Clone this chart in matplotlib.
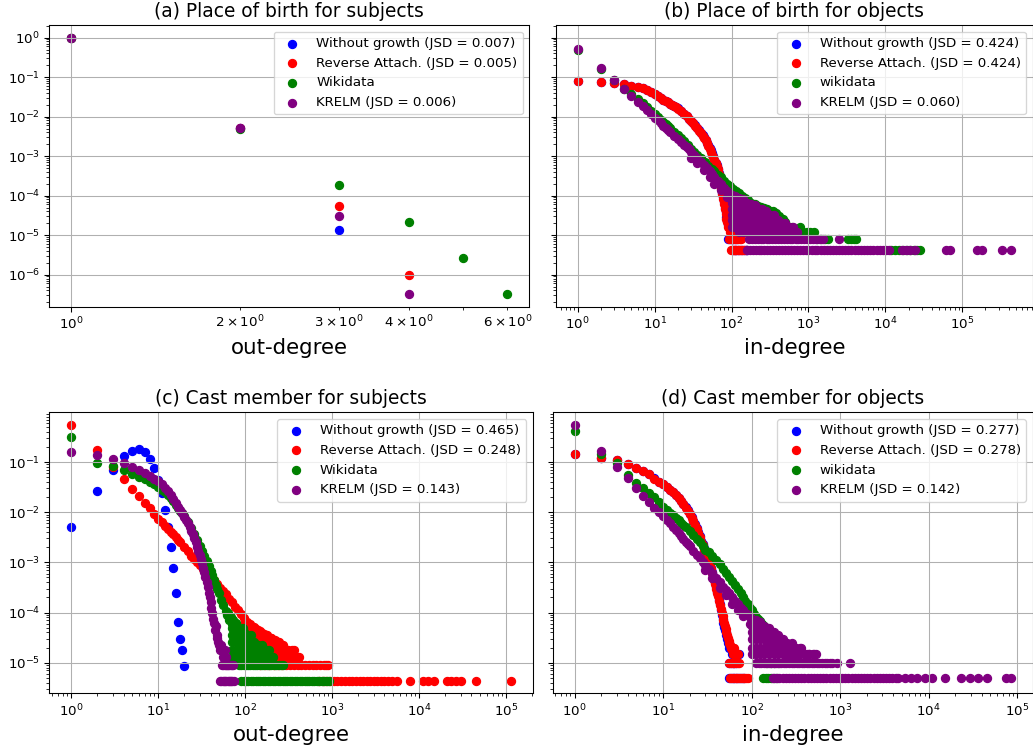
import numpy as np
import matplotlib.pyplot as plt

plt.rcParams.update({'font.size': 10})

# ---------------- (a) place of birth, subjects: out-degree ----------------
a_nogrowth_k = [1, 2, 3]
a_nogrowth_p = [0.99, 5.2e-3, 1.35e-5]
a_reverse_k = [1, 2, 3, 4]
a_reverse_p = [0.99, 5.1e-3, 5.6e-5, 1.0e-6]
a_wiki_k = [1, 2, 3, 4, 5, 6]
a_wiki_p = [0.99, 4.8e-3, 1.9e-4, 2.1e-5, 2.6e-6, 3.3e-7]
a_krelm_k = [1, 2, 3, 4]
a_krelm_p = [0.99, 5.3e-3, 3.0e-5, 3.3e-7]

# ---------------- (b) place of birth, objects: in-degree ----------------
b_unit = 4.1e-6  # frequency of a degree seen once
b_reverse_k = [1, 2, 3, 4, 5, 6, 7, 8, 9, 10, 11, 12, 13, 14, 15, 16, 17, 18, 19, 20,
               22, 24, 26, 28, 30, 32, 34, 36, 38, 40, 42, 44, 46, 48, 50, 52, 54, 56, 58, 60,
               62, 64, 66, 68, 70, 72, 74, 76, 78, 80, 82, 84, 86, 88, 90,
               93, 96, 100, 104, 108, 113, 118, 124, 95, 100, 106, 112, 130, 140]
b_reverse_p = [.080, .075, .069, .066, .061, .057, .052, .047, .042, .037, .033, .030, .027, .025, .023, .021, .0195, .0183, .0172, .016,
               .0138, .0118, .0101, .0088, .0078, .0068, .0059, .0051, .0044, .0038, .0033, .0029, .0025, .0021, .0018, .0015, .0013, .0011, .00093, .00078,
               .00066, .00055, .00046, .00036, .00028, .00021, .00015, .00011, 8e-5, 6e-5, 4.5e-5, 3.4e-5, 2.6e-5, 2.1e-5, 1.6e-5,
               1.64e-5, 1.23e-5, 1.64e-5, 1.23e-5, 1.23e-5, 1.64e-5, 1.23e-5, 1.23e-5, 2.05e-5, 2.05e-5, 1.64e-5, 1.64e-5, 1.23e-5, 1.23e-5]
b_reverse_twice = [92, 97, 101, 105, 110, 115, 121, 127, 133]
b_reverse_once = [99, 103, 107, 111, 116, 121, 126, 132, 138, 145, 152]

b_nogrowth_k = [1, 2, 3, 4, 5, 6, 7, 8, 9, 10, 11, 12, 13, 14, 15, 16, 17, 18, 19, 20,
                22, 24, 26, 28, 30, 32, 34, 36, 38, 40, 42, 44, 46, 48, 50, 52, 54, 56, 58, 60,
                62, 64, 66, 68, 70, 72, 74, 76, 78, 80, 82, 84, 86, 88, 90,
                93, 96, 100, 104, 109, 114, 120, 127]
b_nogrowth_p = [.081, .075, .070, .066, .061, .057, .052, .047, .042, .037, .033, .030, .027, .025, .023, .021, .0196, .0184, .0173, .0161,
                .0139, .0119, .0102, .0089, .0079, .0069, .0060, .0052, .0045, .0039, .0034, .0030, .0026, .0022, .0019, .0016, .0014, .0012, .00098, .00082,
                .00069, .00058, .00048, .00038, .00030, .00023, .00017, .00012, 9e-5, 7e-5, 5e-5, 3.8e-5, 2.9e-5, 2.3e-5, 1.8e-5,
                1.64e-5, 1.64e-5, 1.23e-5, 1.64e-5, 1.23e-5, 1.23e-5, 1.23e-5, 1.23e-5]
b_nogrowth_twice = [89, 95, 100, 106, 112, 118]
b_nogrowth_once = [104, 110, 116, 122, 129, 136, 144, 152, 160]

b_wiki_k = [1, 2, 3, 4, 5, 6, 7, 8, 9, 10, 11, 12, 13, 14, 15, 16,
            18, 20, 22, 24, 27, 30, 33, 36, 40, 45, 50, 55, 60, 66, 72, 80, 88, 96,
            105, 115, 125, 138, 150, 165, 180, 200, 220, 240,
            265, 290, 320, 350, 380, 420, 460, 500, 560, 620,
            700, 780, 860, 950, 1050, 1170]
b_wiki_p = [.50, .165, .083, .051, .037, .028, .0217, .0172, .0140, .0115, .0097, .0084, .0073, .0064, .0057, .0051,
            .0041, .0034, .0028, .0024, .0019, .00155, .00128, .00107, .00088, .00070, .00057, .00048, .00041, .00034, .00029, .00024, .00020, .000175,
            .000150, .000130, .000115, .000098, .000088, .000076, .000066, .000060, .000056, .000053,
            .000050, .000046, .000042, .000040, .000037, .000030, .000025, .000021, .0000164, .0000164,
            .0000123, .0000164, .0000123, .0000123, .0000123, .0000123]
b_wiki_twice = [1300, 1450, 1650, 1800, 3300, 3600, 3900, 4200]
b_wiki_once = [12000, 13500, 15000, 17000, 19000, 21000, 23500, 26000, 28000]

b_krelm_k = [1, 2, 3, 4, 5, 6, 7, 8, 9, 10, 11, 12, 13, 14, 15, 16,
             18, 20, 22, 24, 26, 28,
             30, 30, 33, 36, 36, 40, 44, 44, 48, 52, 52, 56, 60, 60,
             66, 72, 72, 80, 88, 88, 96, 105, 105, 115, 125, 125,
             140, 155, 155, 170, 190, 190, 210, 230, 230, 255, 280, 280,
             310, 340, 340, 380, 420, 420, 470, 530, 600]
b_krelm_p = [.51, .167, .083, .049, .033, .024, .0186, .0145, .0115, .0093, .0080, .0068, .0059, .0052, .0046, .0041,
             .0033, .0027, .0023, .0019, .0017, .0015,
             .00125, .00090, .00105, .00088, .00068, .00072, .00060, .00045, .00050, .00042, .00030, .00035, .00029, .00020,
             .00024, .00020, .00014, .00016, .00013, .00009, .00011, .000092, .000062, .000078, .000066, .000045,
             .000058, .000050, .000033, .000045, .000041, .0000246, .000037, .000033, .0000205, .000029, .0000246, .0000164,
             .0000205, .0000205, .0000123, .0000164, .0000164, .0000123, .0000123, .0000123, .0000123]
# (degree, times seen) inside the dense cloud right of the peak
b_krelm_cloud = [(100, 4), (100, 6), (100, 8), (100, 11), (100, 16), (100, 20), (100, 26),
                 (112, 4), (112, 6), (112, 8), (112, 11), (112, 16), (112, 20), (112, 24),
                 (125, 3), (125, 4), (125, 6), (125, 8), (125, 11), (125, 16), (125, 21),
                 (140, 3), (140, 4), (140, 6), (140, 8), (140, 11), (140, 16), (140, 20),
                 (160, 3), (160, 4), (160, 6), (160, 8), (160, 11), (160, 16),
                 (180, 3), (180, 4), (180, 6), (180, 8), (180, 11), (180, 15),
                 (200, 3), (200, 4), (200, 6), (200, 8), (200, 11), (200, 14),
                 (225, 3), (225, 4), (225, 6), (225, 8), (225, 11),
                 (250, 3), (250, 4), (250, 6), (250, 8), (250, 11),
                 (280, 3), (280, 4), (280, 6), (280, 8), (280, 10),
                 (315, 3), (315, 4), (315, 6), (315, 8),
                 (355, 3), (355, 4), (355, 6), (355, 8),
                 (400, 3), (400, 4), (400, 6),
                 (450, 3), (450, 4), (450, 5),
                 (500, 3), (500, 4), (500, 5),
                 (560, 3), (560, 4), (630, 3), (630, 4), (700, 3)]
b_krelm_twice = [170, 185, 200, 220, 240, 260, 285, 310, 340, 370, 400, 440, 480, 520, 570, 620, 680, 740,
                 810, 880, 960, 1050, 1150, 1250, 1400, 1550, 2500]
b_krelm_once = [160, 175, 190, 205, 225, 245, 265, 290, 315, 345, 375, 410, 450, 490, 540, 590, 640, 700,
                770, 840, 920, 1000, 1100, 1200, 1300, 1450, 1600, 1750, 1900, 2100, 2300, 2500, 2750,
                3000, 3300, 3600, 4000, 4400, 4800, 5300, 5800, 6400, 7000, 7700, 8500, 9300, 10200,
                11200, 16500, 18500, 21000, 24000, 62000, 70000, 155000, 180000, 330000, 430000]

# ---------------- (c) cast member, subjects: out-degree ----------------
c_unit = 4.4e-6
c_nogrowth_k = [1, 2, 3, 4, 5, 6, 7, 8, 9, 10, 11, 12, 13, 14, 15, 16, 17, 18, 19, 20]
c_nogrowth_p = [.0050, .0264, .071, .130, .170, .180, .158, .114, .075, .044, .024, .0113, .0051, .0020,
                .00077, .000246, .000066, .000030, .0000177, .0000087]

c_reverse_k = [1, 2, 3, 4, 5, 6, 7, 8, 9, 10, 11, 12, 13, 14, 15, 16, 17, 18,
               20, 22, 24, 26, 28, 30, 33, 36, 40, 44, 48, 52, 56, 60, 65, 70, 76, 82, 90, 98,
               106, 115, 125, 135, 150, 165, 180, 200, 220, 240,
               260, 280, 300, 330, 360, 390, 420]
c_reverse_p = [.548, .174, .080, .046, .029, .0213, .0150, .0119, .0094, .0075, .0063, .0054, .0047, .0041, .0036, .0032, .0028, .0025,
               .0020, .0017, .00135, .00118, .00102, .00090, .00075, .00063, .00051, .00044, .00037, .00031, .00027, .00023, .00019, .00016, .00013, .00011, .000093, .000078,
               .000066, .000058, .000052, .000047, .000042, .000038, .000035, .000031, .000028, .000026,
               .0000176, .0000176, .0000176, .0000132, .0000176, .0000132, .0000132]
c_reverse_cloud = [(100, 3), (100, 4), (100, 6), (100, 8), (100, 11), (100, 15),
                   (112, 3), (112, 4), (112, 6), (112, 8), (112, 11), (112, 13),
                   (125, 3), (125, 4), (125, 6), (125, 8), (125, 11),
                   (140, 3), (140, 4), (140, 6), (140, 8), (140, 10),
                   (157, 3), (157, 4), (157, 6), (157, 8), (157, 9),
                   (175, 3), (175, 4), (175, 6), (175, 8),
                   (196, 3), (196, 4), (196, 6), (196, 7),
                   (220, 3), (220, 4), (220, 6),
                   (246, 3), (246, 4), (246, 6),
                   (275, 3), (275, 4), (275, 5),
                   (308, 3), (308, 4), (345, 3), (345, 4), (385, 3)]
c_reverse_twice = [150, 170, 190, 215, 240, 265, 295, 330, 365, 400, 440, 490, 540, 600, 660, 730, 800, 850, 890]
c_reverse_once = [700, 780, 860, 950, 1050, 1150, 1270, 1400, 1550, 1700, 1880, 2070, 2280, 2500, 2750,
                  3000, 3300, 3650, 4000, 4400, 4900, 5500, 7800, 11000, 12700, 14700, 21000, 23500,
                  26500, 30000, 45000, 114000]

c_wiki_k = [1, 2, 3, 4, 5, 6, 7, 8, 9, 10, 11, 12, 13, 14, 15, 16, 17, 18, 19, 20,
            22, 24, 26, 28, 30, 32, 34, 36, 38, 40, 42, 44, 46, 48, 50,
            53, 56, 60,
            62, 64, 66, 68, 70, 72, 75, 78, 80, 83, 86, 90, 94, 98,
            102, 106, 110, 115, 120, 126, 132, 140, 148, 156, 165, 175]
c_wiki_p = [.32, .094, .085, .071, .059, .051, .046, .040, .036, .032, .028, .025, .022, .019, .0165, .0142, .0124, .0108, .0095, .0084,
            .0064, .0049, .0037, .0028, .0021, .0017, .00135, .00108, .00086, .00068, .00055, .00044, .00036, .00029, .00024,
            .00018, .00014, .000105,
            .00009, .0001, .00007, .00008, .00006, .00007, .00005, .00006, .00004, .00005, .000035, .000045, .00003, .00004,
            .0000132, .000022, .0000176, .0000132, .000022, .0000176, .0000132, .0000176, .0000132, .0000176, .0000132, .0000132]
c_wiki_cloud = [(70, 3), (70, 4), (70, 6), (70, 8), (70, 11), (70, 15),
                (78, 3), (78, 4), (78, 6), (78, 8), (78, 11), (78, 14),
                (86, 3), (86, 4), (86, 6), (86, 8), (86, 11),
                (95, 3), (95, 4), (95, 6), (95, 8), (95, 11),
                (105, 3), (105, 4), (105, 6), (105, 8),
                (116, 3), (116, 4), (116, 6), (116, 8),
                (128, 3), (128, 4), (128, 6),
                (142, 3), (142, 4), (142, 5),
                (157, 3), (157, 4), (157, 5),
                (173, 3), (173, 4), (190, 3), (190, 4), (210, 3)]
c_wiki_twice = [84, 90, 96, 102, 108, 115, 122, 130, 138, 147, 156, 166, 177, 188, 200, 213, 227, 242, 258, 270]
c_wiki_once = [90, 96, 102, 109, 116, 124, 132, 141, 150, 160, 171, 182, 194, 207, 221, 236, 252, 269, 287,
               306, 327, 349, 372, 397, 424, 452, 482, 514, 549, 585, 625, 667, 711, 759, 810, 864, 922]

c_krelm_k = [1, 2, 3, 4, 5, 6, 7, 8, 9, 10, 11, 12, 13, 14, 15, 16, 17, 18, 19, 20,
             21, 22, 23, 24, 25, 26, 27, 28, 29, 30, 31, 32, 33, 34, 35, 36, 37, 38, 39, 40,
             41, 42, 43, 44, 45, 46, 47, 48, 49, 50, 52, 53, 55, 57, 59, 61]
c_krelm_p = [.158, .138, .115, .098, .081, .069, .061, .053, .047, .042, .036, .031, .026, .022, .018, .015, .0128, .011, .0095, .0082,
             .0070, .0060, .0051, .0043, .0036, .0030, .0025, .0020, .0017, .0014, .00115, .00095, .00078, .00063, .00050, .00040, .00032, .00025, .00020, .00016,
             .000125, .00010, .000075, .000062, .000044, .000053, .000035, .000031, .0000264, .000022, .0000176, .000022, .0000132, .0000132, .0000176, .0000132]
c_krelm_twice = [54, 56, 58, 60, 62, 64, 66, 68, 70, 72]
c_krelm_once = [51, 53, 55, 57, 59, 61, 63, 65, 67, 69, 71, 74]

# ---------------- (d) cast member, objects: in-degree ----------------
d_unit = 5.0e-6
d_reverse_k = [1, 2, 3, 4, 5, 6, 7, 8, 9, 10, 11, 12, 13, 14, 15, 16, 17, 18, 19, 20,
               21, 22, 23, 24, 25, 26, 27, 28, 29, 30, 31, 32, 33, 34, 35, 36, 37, 38, 39, 40,
               41, 42, 43, 44, 45, 46, 47, 48, 49, 50, 51, 52, 53, 54, 55, 56, 57, 58, 59, 60,
               61, 62, 63, 64, 65, 66, 67, 68, 70]
d_reverse_p = [.142, .122, .110, .091, .078, .066, .057, .047, .041, .036, .032, .028, .025, .022, .019, .0165, .0143, .0124, .0107, .0092,
               .0078, .0066, .0055, .0046, .0038, .0032, .0026, .0022, .0018, .0015, .00128, .00112, .00098, .00086, .00075, .00062, .00052, .00044, .00037, .0003,
               .00025, .00021, .00017, .00014, .00012, .0001, .000085, .000072, .000062, .000054, .000047, .000041, .000036, .000031, .000027, .000025, .000022, .00002, .00002, .000018,
               .00002, .000015, .00002, .000015, .000015, .000015, .000015, .000015, .000015]
d_reverse_twice = [55, 58, 61, 64, 67, 70, 73]
d_reverse_once = [57, 60, 63, 66, 69, 72, 75, 79, 83, 87, 91]

d_nogrowth_k = [1, 2, 3, 4, 5, 6, 7, 8, 9, 10, 11, 12, 13, 14, 15, 16, 17, 18, 19, 20,
                21, 22, 23, 24, 25, 26, 27, 28, 29, 30, 31, 32, 33, 34, 35, 36, 37, 38, 39, 40,
                41, 42, 43, 44, 45, 46, 47, 48, 49, 50, 51, 52, 53, 54, 55, 56,
                58, 60, 62, 65, 68, 72]
d_nogrowth_p = [.143, .123, .110, .092, .078, .066, .057, .048, .041, .036, .032, .028, .025, .022, .0192, .0167, .0145, .0126, .0109, .0094,
                .0080, .0068, .0057, .0048, .0040, .0033, .0027, .0023, .0019, .0016, .00135, .00118, .00103, .0009, .00079, .00064, .00054, .00046, .00039, .00032,
                .00026, .00022, .00018, .00015, .00011, .00009, .000075, .000062, .000052, .000045, .00004, .000035, .00003, .000025, .000025, .00002,
                .00002, .000015, .00002, .000015, .000015, .000015]
d_nogrowth_twice = [55, 58, 61, 64, 67]
d_nogrowth_once = [55, 58, 61, 64, 67, 70, 74, 78, 82]

d_wiki_k = [1, 2, 3, 4, 5, 6, 7, 8, 9, 10, 11, 12, 13, 14, 15, 16, 17, 18,
            20, 22, 24, 26, 28, 30,
            33, 36, 40, 44, 48, 52, 56, 60, 65, 70, 75, 80, 85, 90, 95, 100,
            106, 112, 118, 125, 132, 140, 148, 156, 165, 175, 185, 195, 205]
d_wiki_p = [.416, .145, .095, .055, .039, .030, .024, .0197, .0160, .0130, .0112, .0098, .0087, .0077, .0069, .0062, .0056, .0051,
            .0042, .0035, .0029, .0025, .0021, .0018,
            .0016, .00135, .0011, .00092, .00075, .00062, .00051, .00042, .00035, .00029, .00024, .0002, .00017, .000145, .000125, .00011,
            .000095, .000083, .000075, .000067, .00006, .000055, .00005, .000045, .00004, .000035, .00003, .00003, .000025]
d_wiki_twice = [150, 165, 180, 200]
d_wiki_once = [135, 145, 155, 165, 180, 195]

d_krelm_k = [1, 2, 3, 4, 5, 6, 7, 8, 9, 10, 11, 12, 13, 14, 15, 16, 17, 18, 19, 20,
             22, 24, 26, 28, 30, 30,
             33, 36, 36, 40, 44, 44, 48, 52, 52, 56, 60, 60,
             65, 70, 70, 75, 80, 80, 88, 96, 96, 105,
             110, 115, 120, 125, 130, 136, 142, 150, 158, 165,
             175, 185, 195, 205, 220, 235, 250, 270, 290, 310,
             330, 360, 390, 420, 450, 500, 540]
d_krelm_p = [.548, .168, .081, .049, .031, .021, .0157, .0124, .0100, .0083, .0070, .0060, .0051, .0044, .0038, .0033, .0029, .0026, .0023, .0021,
             .0017, .00142, .0012, .00102, .00088, .00070,
             .00073, .00061, .00048, .00049, .00040, .00031, .00033, .00028, .00022, .00024, .00020, .00015,
             .00017, .000145, .00011, .000125, .00011, .000085, .000092, .00008, .00006, .00007,
             .00006, .00005, .00004, .000055, .000035, .000045, .00003, .00004, .000025, .000035,
             .000025, .00003, .00002, .000025, .00002, .000015, .00002, .000015, .00002, .000015,
             .000015, .00002, .000015, .000015, .000015, .000015, .000015]
d_krelm_cloud = [(100, 3), (100, 4), (100, 6), (100, 8), (100, 11), (100, 15),
                 (112, 3), (112, 4), (112, 6), (112, 8), (112, 11), (112, 14),
                 (125, 3), (125, 4), (125, 6), (125, 8), (125, 11), (125, 13),
                 (140, 3), (140, 4), (140, 6), (140, 8), (140, 11),
                 (158, 3), (158, 4), (158, 6), (158, 8), (158, 10),
                 (178, 3), (178, 4), (178, 6), (178, 8),
                 (200, 3), (200, 4), (200, 6), (200, 7),
                 (225, 3), (225, 4), (225, 6),
                 (252, 3), (252, 4), (252, 5),
                 (283, 3), (283, 4), (283, 5),
                 (318, 3), (318, 4), (356, 3), (356, 4),
                 (400, 3), (450, 3), (505, 3)]
d_krelm_twice = [112, 120, 128, 137, 146, 156, 167, 178, 190, 203, 217, 232, 248, 265, 283, 302, 323, 345,
                 368, 393, 420, 449, 480, 513, 548, 585, 625, 670, 720, 770, 810, 920, 1300]
d_krelm_once = [175, 190, 206, 224, 243, 264, 286, 310, 337, 365, 396, 430, 467, 506, 549, 596, 647, 702,
                761, 826, 896, 972, 1055, 1145, 1240, 1350, 1460, 1590, 1720, 1870, 2030, 2200, 2390,
                2590, 2810, 3050, 3310, 3590, 3900, 4230, 4500, 5400, 6400, 7300, 9100, 10900, 15200,
                23300, 29000, 36000, 46000, 75000, 85000]


def series(k, p, twice=(), once=(), unit=0.0, cloud=()):
    # head of the distribution, a cloud given as (degree, times seen),
    # then the tail degrees seen twice / once
    ks = list(k) + [c[0] for c in cloud] + list(twice) + list(once)
    ps = (list(p) + [c[1] * unit for c in cloud]
          + [2 * unit] * len(twice) + [unit] * len(once))
    return ks, ps


def box(left, top, right, bottom):
    W, H = 1033.0, 749.0
    return [left / W, 1 - bottom / H, (right - left) / W, (bottom - top) / H]


fig = plt.figure(figsize=(1033 / 96, 749 / 96), dpi=96)
ax_a = fig.add_axes(box(49.2, 25, 529.3, 306.5))
ax_b = fig.add_axes(box(556, 25, 1032.7, 306.5), sharey=ax_a)
ax_c = fig.add_axes(box(49.2, 412.3, 533, 693.3))
ax_d = fig.add_axes(box(552.7, 412.3, 1032.7, 693.3), sharey=ax_c)

panels = [
    (ax_a, '(a) Place of birth for subjects', 'out-degree', 'Wikidata',
     [(a_nogrowth_k, a_nogrowth_p, (), (), 0, ()), (a_reverse_k, a_reverse_p, (), (), 0, ()),
      (a_wiki_k, a_wiki_p, (), (), 0, ()), (a_krelm_k, a_krelm_p, (), (), 0, ())],
     ['0.007', '0.005', '0.006']),
    (ax_b, '(b) Place of birth for objects', 'in-degree', 'wikidata',
     [(b_nogrowth_k, b_nogrowth_p, b_nogrowth_twice, b_nogrowth_once, b_unit, ()),
      (b_reverse_k, b_reverse_p, b_reverse_twice, b_reverse_once, b_unit, ()),
      (b_wiki_k, b_wiki_p, b_wiki_twice, b_wiki_once, b_unit, ()),
      (b_krelm_k, b_krelm_p, b_krelm_twice, b_krelm_once, b_unit, b_krelm_cloud)],
     ['0.424', '0.424', '0.060']),
    (ax_c, '(c) Cast member for subjects', 'out-degree', 'Wikidata',
     [(c_nogrowth_k, c_nogrowth_p, (), (), c_unit, ()),
      (c_reverse_k, c_reverse_p, c_reverse_twice, c_reverse_once, c_unit, c_reverse_cloud),
      (c_wiki_k, c_wiki_p, c_wiki_twice, c_wiki_once, c_unit, c_wiki_cloud),
      (c_krelm_k, c_krelm_p, c_krelm_twice, c_krelm_once, c_unit, ())],
     ['0.465', '0.248', '0.143']),
    (ax_d, '(d) Cast member for objects', 'in-degree', 'wikidata',
     [(d_nogrowth_k, d_nogrowth_p, d_nogrowth_twice, d_nogrowth_once, d_unit, ()),
      (d_reverse_k, d_reverse_p, d_reverse_twice, d_reverse_once, d_unit, ()),
      (d_wiki_k, d_wiki_p, d_wiki_twice, d_wiki_once, d_unit, ()),
      (d_krelm_k, d_krelm_p, d_krelm_twice, d_krelm_once, d_unit, d_krelm_cloud)],
     ['0.277', '0.278', '0.142']),
]

colors = ['blue', 'red', 'green', 'purple']

for ax, title, xlabel, wiki_name, data, jsd in panels:
    labels = [f'Without growth (JSD = {jsd[0]})',
              f'Reverse Attach. (JSD = {jsd[1]})',
              wiki_name,
              f'KRELM (JSD = {jsd[2]})']
    for (k, p, twice, once, unit, cloud), col, lab in zip(data, colors, labels):
        ks, ps = series(k, p, twice, once, unit, cloud)
        ax.scatter(ks, ps, color=col, label=lab)
    ax.set_xscale('log')
    ax.set_yscale('log')
    ax.set_title(title, fontsize=14)
    ax.set_xlabel(xlabel, fontsize=16)
    ax.grid(True)
    ax.legend(loc='upper right')

ax_b.tick_params(labelleft=False)
ax_d.tick_params(labelleft=False)

fig.savefig('out.png', dpi=96)
